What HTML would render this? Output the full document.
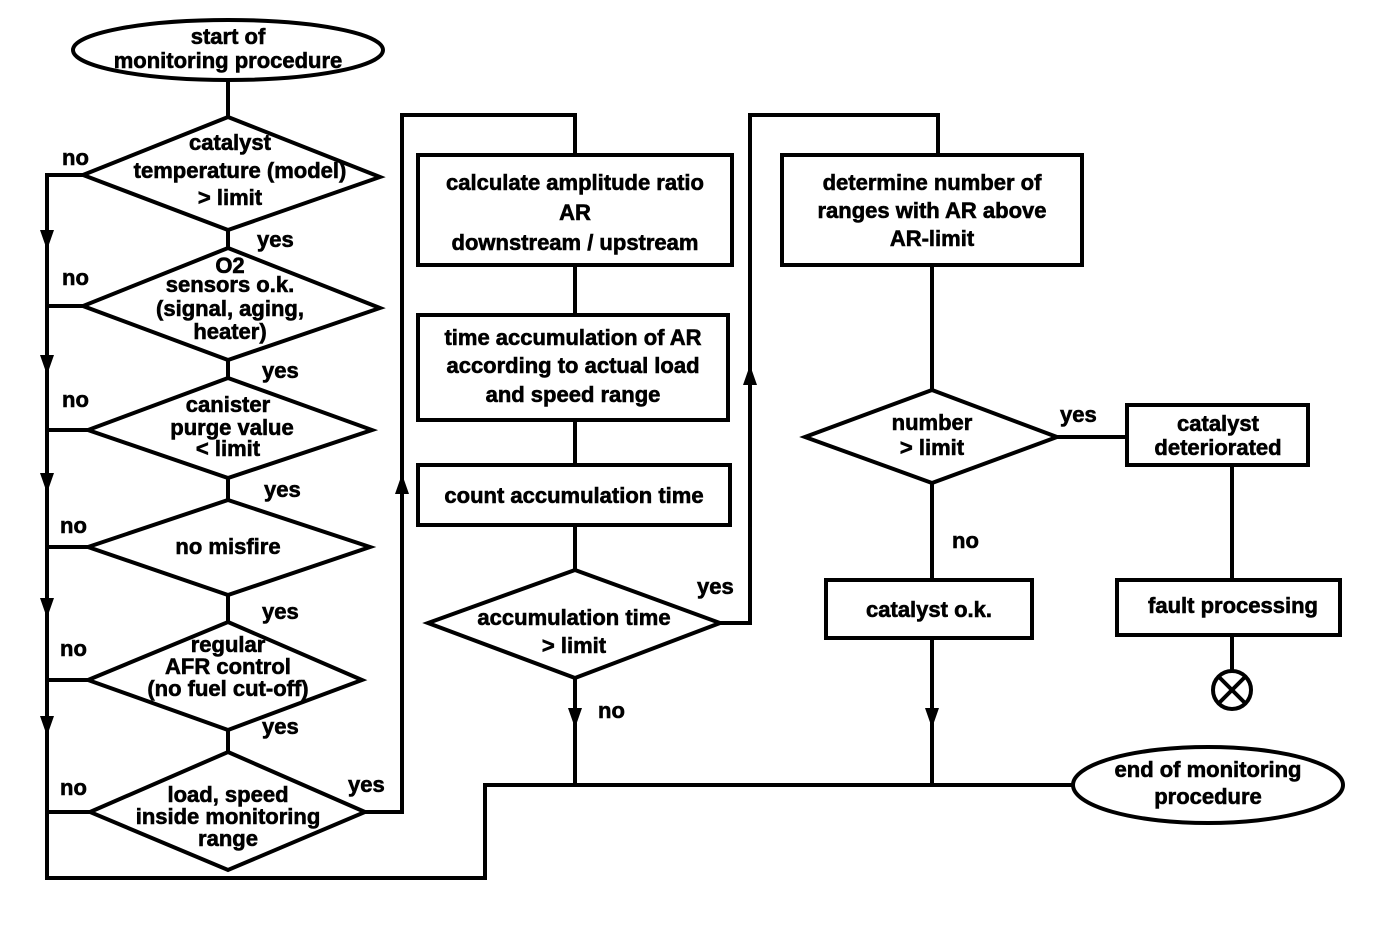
<!DOCTYPE html>
<html><head><meta charset="utf-8"><style>
html,body{margin:0;padding:0;background:#fff}
svg text{font-family:"Liberation Sans",Arial,sans-serif;font-weight:bold;font-size:22px;fill:#000;text-anchor:middle;stroke:#000;stroke-width:0.6px}
</style></head><body>
<svg width="1392" height="920" viewBox="0 0 1392 920" xmlns="http://www.w3.org/2000/svg">
<g stroke="#000" stroke-width="4" fill="none">
<ellipse cx="228" cy="50" rx="155" ry="30"/>
<line x1="228" y1="80" x2="228" y2="117"/>
<polygon points="228,117 380,177 228,230 83,175"/>
<line x1="228" y1="230" x2="228" y2="248"/>
<polygon points="228,248 380,308 228,360 83,306"/>
<line x1="228" y1="360" x2="228" y2="378"/>
<polygon points="228,378 372,430 228,478 88,430"/>
<line x1="228" y1="478" x2="228" y2="500"/>
<polygon points="228,500 370,547 228,595 88,547"/>
<line x1="228" y1="595" x2="228" y2="622"/>
<polygon points="228,622 362,680 228,730 88,680"/>
<line x1="228" y1="730" x2="228" y2="752"/>
<polygon points="228,752 365,812 228,870 90,812"/>
<polyline points="83,175 47,175 47,878 485,878 485,785 1075,785"/>
<line x1="47" y1="306" x2="83" y2="306"/>
<line x1="47" y1="430" x2="88" y2="430"/>
<line x1="47" y1="547" x2="88" y2="547"/>
<line x1="47" y1="680" x2="88" y2="680"/>
<line x1="47" y1="812" x2="90" y2="812"/>
<polyline points="365,812 402,812 402,115 575,115 575,155"/>
<rect x="418" y="155" width="314" height="110"/>
<line x1="575" y1="265" x2="575" y2="315"/>
<rect x="418" y="315" width="310" height="105"/>
<line x1="575" y1="420" x2="575" y2="465"/>
<rect x="418" y="465" width="312" height="60"/>
<line x1="575" y1="525" x2="575" y2="570"/>
<polygon points="575,570 720,623 575,678 428,623"/>
<line x1="575" y1="678" x2="575" y2="785"/>
<polyline points="720,623 750,623 750,115 938,115 938,155"/>
<rect x="782" y="155" width="300" height="110"/>
<line x1="932" y1="265" x2="932" y2="390"/>
<polygon points="932,390 1057,437 932,483 805,437"/>
<line x1="932" y1="483" x2="932" y2="580"/>
<rect x="826" y="580" width="206" height="58"/>
<line x1="932" y1="638" x2="932" y2="785"/>
<line x1="1057" y1="437" x2="1127" y2="437"/>
<rect x="1127" y="405" width="181" height="60"/>
<line x1="1232" y1="465" x2="1232" y2="580"/>
<rect x="1117" y="580" width="223" height="55"/>
<line x1="1232" y1="635" x2="1232" y2="670"/>
<circle cx="1232" cy="690" r="19"/>
<line x1="1219" y1="677" x2="1245" y2="703"/>
<line x1="1245" y1="677" x2="1219" y2="703"/>
<ellipse cx="1208" cy="785" rx="135" ry="38"/>
</g>
<g fill="#000">
<path d="M40,230 L54,230 L47,250 z"/>
<path d="M40,355 L54,355 L47,375 z"/>
<path d="M40,473 L54,473 L47,493 z"/>
<path d="M40,598 L54,598 L47,618 z"/>
<path d="M40,716 L54,716 L47,736 z"/>
<path d="M395,494 L409,494 L402,474 z"/>
<path d="M743,385 L757,385 L750,365 z"/>
<path d="M568,708 L582,708 L575,728 z"/>
<path d="M925,708 L939,708 L932,728 z"/>
</g>
<text x="228" y="44">start of</text>
<text x="228" y="68">monitoring procedure</text>
<text x="230" y="150">catalyst</text>
<text x="240" y="178">temperature (model)</text>
<text x="230" y="205">&gt; limit</text>
<text x="230" y="273">O2</text>
<text x="230" y="292">sensors o.k.</text>
<text x="230" y="316">(signal, aging,</text>
<text x="230" y="339">heater)</text>
<text x="228" y="412">canister</text>
<text x="232" y="435">purge value</text>
<text x="228" y="456">&lt; limit</text>
<text x="228" y="554">no misfire</text>
<text x="228" y="652">regular</text>
<text x="228" y="674">AFR control</text>
<text x="228" y="696">(no fuel cut-off)</text>
<text x="228" y="802">load, speed</text>
<text x="228" y="824">inside monitoring</text>
<text x="228" y="846">range</text>
<text x="62" y="165" style="text-anchor:start">no</text>
<text x="62" y="285" style="text-anchor:start">no</text>
<text x="62" y="407" style="text-anchor:start">no</text>
<text x="60" y="533" style="text-anchor:start">no</text>
<text x="60" y="656" style="text-anchor:start">no</text>
<text x="60" y="795" style="text-anchor:start">no</text>
<text x="257" y="247" style="text-anchor:start">yes</text>
<text x="262" y="378" style="text-anchor:start">yes</text>
<text x="264" y="497" style="text-anchor:start">yes</text>
<text x="262" y="619" style="text-anchor:start">yes</text>
<text x="262" y="734" style="text-anchor:start">yes</text>
<text x="348" y="792" style="text-anchor:start">yes</text>
<text x="697" y="594" style="text-anchor:start">yes</text>
<text x="598" y="718" style="text-anchor:start">no</text>
<text x="1060" y="422" style="text-anchor:start">yes</text>
<text x="952" y="548" style="text-anchor:start">no</text>
<text x="575" y="190">calculate amplitude ratio</text>
<text x="575" y="220">AR</text>
<text x="575" y="250">downstream / upstream</text>
<text x="573" y="345">time accumulation of AR</text>
<text x="573" y="373">according to actual load</text>
<text x="573" y="402">and speed range</text>
<text x="574" y="503">count accumulation time</text>
<text x="574" y="625">accumulation time</text>
<text x="574" y="653">&gt; limit</text>
<text x="932" y="190">determine number of</text>
<text x="932" y="218">ranges with AR above</text>
<text x="932" y="246">AR-limit</text>
<text x="932" y="430">number</text>
<text x="932" y="455">&gt; limit</text>
<text x="929" y="617">catalyst o.k.</text>
<text x="1218" y="431">catalyst</text>
<text x="1218" y="455">deteriorated</text>
<text x="1233" y="613">fault processing</text>
<text x="1208" y="777">end of monitoring</text>
<text x="1208" y="804">procedure</text>
</svg>
</body></html>
